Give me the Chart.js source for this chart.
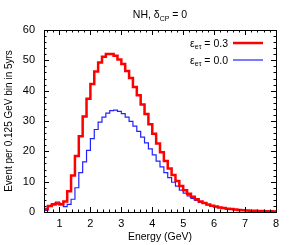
<!DOCTYPE html>
<html>
<head>
<meta charset="utf-8">
<script src="https://cdn.jsdelivr.net/npm/chart.js@4/dist/chart.umd.min.js"></script>
<style>
  body { margin: 0; background: #fff; }
  canvas { display: block; }
</style>
</head>
<body>
<canvas id="myChart" width="294" height="245"></canvas>
<script>
// histogram bins: 0.125 GeV wide, from 0.5 to 8 GeV
const binStart = 0.5;
const binWidth = 0.125;

// epsilon_etau = 0.3 (red)
const eps03 = [1.0, 2.0, 2.5, 2.8, 2.5, 3.5, 6.8, 12.0, 18.5, 25.0,
  31.5, 37.3, 42.2, 46.3, 49.3, 51.2, 52.1, 52.1, 51.5, 50.3,
  48.8, 46.5, 44.2, 41.2, 38.5, 35.4, 32.3, 28.9, 25.8, 22.6,
  19.7, 16.8, 14.3, 12.2, 10.2, 8.6, 7.2, 6.0, 5.0, 4.2,
  3.5, 3.0, 2.5, 2.1, 1.8, 1.5, 1.3, 1.1, 0.95, 0.8,
  0.7, 0.6, 0.5, 0.45, 0.4, 0.35, 0.3, 0.25, 0.22, 0.2];

// epsilon_etau = 0.0 (blue)
const eps00 = [0.5, 2.0, 2.8, 3.3, 2.8, 1.8, 2.5, 4.2, 8.0, 13.0,
  16.5, 20.3, 24.2, 27.2, 29.6, 31.3, 32.6, 33.4, 33.6, 33.2,
  32.4, 31.3, 29.9, 28.3, 26.6, 24.7, 22.8, 20.8, 18.8, 16.8,
  14.9, 13.0, 11.3, 9.8, 8.5, 7.2, 6.2, 5.3, 4.5, 3.8,
  3.2, 2.8, 2.3, 2.0, 1.7, 1.4, 1.2, 1.0, 0.9, 0.75,
  0.65, 0.55, 0.45, 0.4, 0.35, 0.3, 0.25, 0.22, 0.2, 0.18];

const xTicks = [1, 2, 3, 4, 5, 6, 7, 8];
const yTicks = [0, 10, 20, 30, 40, 50, 60];

const FONT = '"Liberation Sans", Arial, sans-serif';

// left edge of each bin + closing point at the right edge
function toSteps(vals) {
  const pts = vals.map((v, i) => ({ x: binStart + i * binWidth, y: v }));
  pts.push({ x: binStart + vals.length * binWidth, y: vals[vals.length - 1] });
  return pts;
}

// text with a subscript part, drawn from x (left) on baseline y
function drawSub(ctx, parts, x, y) {
  parts.forEach(p => {
    ctx.font = (p.sub ? '7px ' : '10.5px ') + FONT;
    ctx.fillText(p.t, x, p.sub ? y + 2.5 : y);
    x += ctx.measureText(p.t).width;
  });
  return x;
}
function subWidth(ctx, parts) {
  let w = 0;
  parts.forEach(p => {
    ctx.font = (p.sub ? '7px ' : '10.5px ') + FONT;
    w += ctx.measureText(p.t).width;
  });
  return w;
}

const frameTicks = {
  id: 'frameTicks',
  afterDraw(chart) {
    const { ctx, chartArea: a, scales: { x, y } } = chart;
    ctx.save();
    ctx.strokeStyle = '#000';
    ctx.lineWidth = 1;
    ctx.beginPath();
    // x ticks every 0.2, major every 1
    for (let i = 3; i <= 40; i++) {
      const px = Math.round(x.getPixelForValue(i * 0.2)) + 0.5;
      const len = i % 5 === 0 ? 5 : 2.5;
      ctx.moveTo(px, a.bottom); ctx.lineTo(px, a.bottom - len);
      ctx.moveTo(px, a.top); ctx.lineTo(px, a.top + len);
    }
    // y ticks every 2, major every 10
    for (let v = 0; v <= 60; v += 2) {
      const py = Math.round(y.getPixelForValue(v)) + 0.5;
      const len = v % 10 === 0 ? 5 : 2.5;
      ctx.moveTo(a.left, py); ctx.lineTo(a.left + len, py);
      ctx.moveTo(a.right, py); ctx.lineTo(a.right - len, py);
    }
    ctx.stroke();
    ctx.strokeRect(Math.round(a.left) + 0.5, Math.round(a.top) + 0.5,
      Math.round(a.right - a.left), Math.round(a.bottom - a.top));

    // title
    ctx.fillStyle = '#000';
    ctx.textBaseline = 'alphabetic';
    ctx.textAlign = 'left';
    const title = [{ t: 'NH, δ' }, { t: 'CP', sub: true }, { t: ' = 0' }];
    const tw = subWidth(ctx, title);
    drawSub(ctx, title, (a.left + a.right) / 2 - tw / 2, 18);

    // legend
    const rows = [
      { parts: [{ t: 'ε' }, { t: 'eτ', sub: true }, { t: ' = 0.3' }], color: '#ff0000', lw: 2.5, y: 43 },
      { parts: [{ t: 'ε' }, { t: 'eτ', sub: true }, { t: ' = 0.0' }], color: '#2222ff', lw: 1.2, y: 60 }
    ];
    rows.forEach(r => {
      const w = subWidth(ctx, r.parts);
      drawSub(ctx, r.parts, 228 - w, r.y + 3.5);
      ctx.strokeStyle = r.color;
      ctx.lineWidth = r.lw;
      ctx.beginPath();
      ctx.moveTo(233, r.y); ctx.lineTo(263, r.y);
      ctx.stroke();
    });
    ctx.restore();
  }
};

new Chart(document.getElementById('myChart').getContext('2d'), {
  type: 'line',
  data: {
    datasets: [
      { label: 'eps 0.3', data: toSteps(eps03), borderColor: '#ff0000', borderWidth: 2.5,
        stepped: 'before', pointRadius: 0, fill: false, order: 0 },
      { label: 'eps 0.0', data: toSteps(eps00), borderColor: '#2222ff', borderWidth: 1.2,
        stepped: 'before', pointRadius: 0, fill: false, order: 1 }
    ]
  },
  options: {
    responsive: false,
    animation: false,
    devicePixelRatio: 1,
    layout: { padding: { left: 0, right: 18, top: 30, bottom: 0 } },
    plugins: { legend: { display: false }, tooltip: { enabled: false }, title: { display: false } },
    scales: {
      x: {
        type: 'linear', min: 0.5, max: 8,
        afterBuildTicks: s => { s.ticks = xTicks.map(v => ({ value: v })); },
        afterFit: s => { s.height = 33; },
        grid: { display: false, drawTicks: false },
        border: { display: false },
        ticks: { color: '#000', padding: 5, maxRotation: 0, font: { family: FONT, size: 11 } },
        title: { display: true, text: 'Energy (GeV)', color: '#000', padding: { top: 0, bottom: 2 },
          font: { family: FONT, size: 10.5 } }
      },
      y: {
        min: 0, max: 60,
        afterBuildTicks: s => { s.ticks = yTicks.map(v => ({ value: v })); },
        afterFit: s => { s.width = 44; },
        grid: { display: false, drawTicks: false },
        border: { display: false },
        ticks: { color: '#000', padding: 9, font: { family: FONT, size: 11 } },
        title: { display: true, text: 'Event per 0.125 GeV bin in 5yrs', color: '#000',
          padding: { top: 3, bottom: 0 }, font: { family: FONT, size: 10 } }
      }
    }
  },
  plugins: [frameTicks]
});
</script>
</body>
</html>
